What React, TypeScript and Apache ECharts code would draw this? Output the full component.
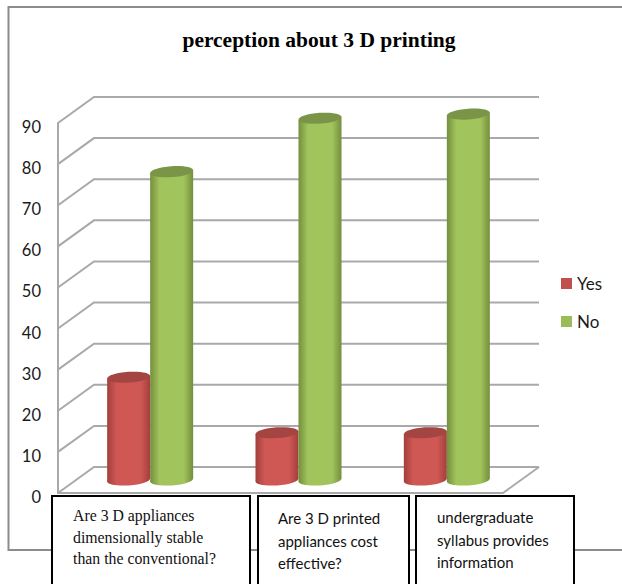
import React, { useEffect, useRef } from "react";
import * as echarts from "echarts";

const titleText = "perception about 3 D printing";
const categories = [
  "Are 3 D appliances\ndimensionally stable\nthan the conventional?",
  "Are 3 D printed\nappliances cost\neffective?",
  "undergraduate\nsyllabus provides\ninformation",
];
const yesValues = [25, 11.5, 11.5];
const noValues = [75, 88, 89];
const gridTicks = [0, 10, 20, 30, 40, 50, 60, 70, 80, 90];

const DEPTH_X = 36;
const DEPTH_Y = 26;
const BAR_HALF = 21.5;
const CAP_RY = 5.4;
const TILT = 0.07;
const GRID_GRAY = "#a9a9a9";

const horizontal = (edge: string, mid: string) =>
  new echarts.graphic.LinearGradient(0, 0, 1, 0, [
    { offset: 0, color: edge },
    { offset: 0.22, color: mid },
    { offset: 0.5, color: mid },
    { offset: 0.78, color: mid },
    { offset: 1, color: edge },
  ]);

// Oblique wall and floor lines: one polyline per tick, running back from the front axis.
const renderWall = (params: any, api: any) => {
  const value = api.value(1);
  const [, y] = api.coord([0, value]);
  const sys = params.coordSys;
  const left = sys.x;
  const right = sys.x + sys.width;
  const style = { stroke: GRID_GRAY, lineWidth: 2, fill: "none" };
  const children: any[] = [
    {
      type: "polyline",
      shape: {
        points: [
          [left, y],
          [left + DEPTH_X, y - DEPTH_Y],
          [right + DEPTH_X, y - DEPTH_Y],
        ],
      },
      style,
    },
  ];
  if (value === 0) {
    children.push({
      type: "line",
      shape: { x1: right, y1: y, x2: right + DEPTH_X, y2: y - DEPTH_Y },
      style,
    });
  }
  return { type: "group", children };
};

// Cylinder: tilted body and base in a horizontal gradient, with a flat darker cap.
const cylinder = (side: number, edge: string, mid: string, cap: string) => (_: any, api: any) => {
  const [cx0, top0] = api.coord([api.value(0), api.value(1)]);
  const [, base0] = api.coord([api.value(0), 0]);
  const cx = cx0 + DEPTH_X / 2 + side * BAR_HALF;
  const top = top0 - DEPTH_Y / 2;
  const base = base0 - DEPTH_Y / 2;
  const dy = BAR_HALF * Math.sin(TILT);
  const fill = horizontal(edge, mid);
  const ellipse = (cy: number, color: any) => ({
    type: "ellipse",
    x: cx,
    y: cy,
    rotation: TILT,
    shape: { cx: 0, cy: 0, rx: BAR_HALF, ry: CAP_RY },
    style: { fill: color },
  });
  return {
    type: "group",
    children: [
      ellipse(base, fill),
      {
        type: "polygon",
        shape: {
          points: [
            [cx - BAR_HALF, top + dy],
            [cx + BAR_HALF, top - dy],
            [cx + BAR_HALF, base - dy],
            [cx - BAR_HALF, base + dy],
          ],
        },
        style: { fill },
      },
      ellipse(top, cap),
    ],
  };
};

const boxes = [
  { x: 52, width: 198, textX: 73, textY: 505, font: "Liberation Serif", size: 15.8, lineHeight: 21.5 },
  { x: 258, width: 151, textX: 278, textY: 507, font: "Lato", size: 15, lineHeight: 22.5 },
  { x: 416, width: 158, textX: 437, textY: 506, font: "Lato", size: 15, lineHeight: 22.5 },
];

export default function App() {
  const ref = useRef<HTMLDivElement>(null);

  useEffect(() => {
    const chart = echarts.init(ref.current!, undefined, { renderer: "svg" });
    chart.setOption({
      animation: false,
      backgroundColor: "#ffffff",
      title: {
        text: titleText,
        left: 314,
        top: 24,
        textAlign: "center",
        textStyle: { fontFamily: "Liberation Serif", fontWeight: "bold", fontSize: 21.5, color: "#000000" },
      },
      legend: {
        data: [
          { name: "Yes", icon: "rect" },
          { name: "No", icon: "rect" },
        ],
        orient: "vertical",
        left: 561,
        top: 275,
        padding: 0,
        itemWidth: 11,
        itemHeight: 11,
        itemGap: 21,
        selectedMode: false,
        textStyle: { fontFamily: "Lato", fontSize: 17, color: "#1a1a1a" },
      },
      grid: { left: 58, top: 123, width: 445, height: 370 },
      xAxis: {
        type: "category",
        data: categories,
        axisLine: { show: true, lineStyle: { color: GRID_GRAY, width: 2 } },
        axisTick: { show: false },
        axisLabel: { show: false },
      },
      yAxis: {
        type: "value",
        min: 0,
        max: 90,
        interval: 10,
        splitLine: { show: false },
        axisLine: { show: true, lineStyle: { color: GRID_GRAY, width: 2 } },
        axisTick: { show: false },
        axisLabel: {
          fontFamily: "Lato",
          fontSize: 16.5,
          color: "#1a1a1a",
          margin: 17,
          verticalAlign: "top",
          lineHeight: 8,
        },
      },
      series: [
        {
          type: "custom",
          name: "walls",
          silent: true,
          z: 1,
          renderItem: renderWall,
          data: gridTicks.map((t) => [0, t]),
        },
        {
          type: "custom",
          name: "Yes",
          z: 3,
          itemStyle: { color: "#c0504d" },
          renderItem: cylinder(-1, "#a23f3c", "#cf5855", "#a54542"),
          data: yesValues.map((v, i) => [i, v]),
        },
        {
          type: "custom",
          name: "No",
          z: 4,
          itemStyle: { color: "#9bbb59" },
          renderItem: cylinder(1, "#748f3d", "#a2c45c", "#7b9548"),
          data: noValues.map((v, i) => [i, v]),
        },
      ],
      graphic: [
        {
          type: "polyline",
          z: 0,
          silent: true,
          shape: { points: [[622, 7], [8.5, 7], [8.5, 550], [622, 550]] },
          style: { stroke: "#8c8c8c", lineWidth: 2, fill: "none" },
        },
        ...boxes.flatMap((b, i) => [
          {
            type: "rect",
            z: 10,
            shape: { x: b.x, y: 496, width: b.width, height: 110 },
            style: { fill: "#ffffff", stroke: "#000000", lineWidth: 2 },
          },
          {
            type: "text",
            z: 11,
            x: b.textX,
            y: b.textY,
            style: {
              text: categories[i],
              fontFamily: b.font,
              fontSize: b.size,
              lineHeight: b.lineHeight,
              fill: "#111111",
            },
          },
        ]),
      ],
    });
    return () => chart.dispose();
  }, []);

  return (
    <div
      ref={ref}
      style={{ position: "absolute", left: 0, top: 0, width: 622, height: 584 }}
    />
  );
}
